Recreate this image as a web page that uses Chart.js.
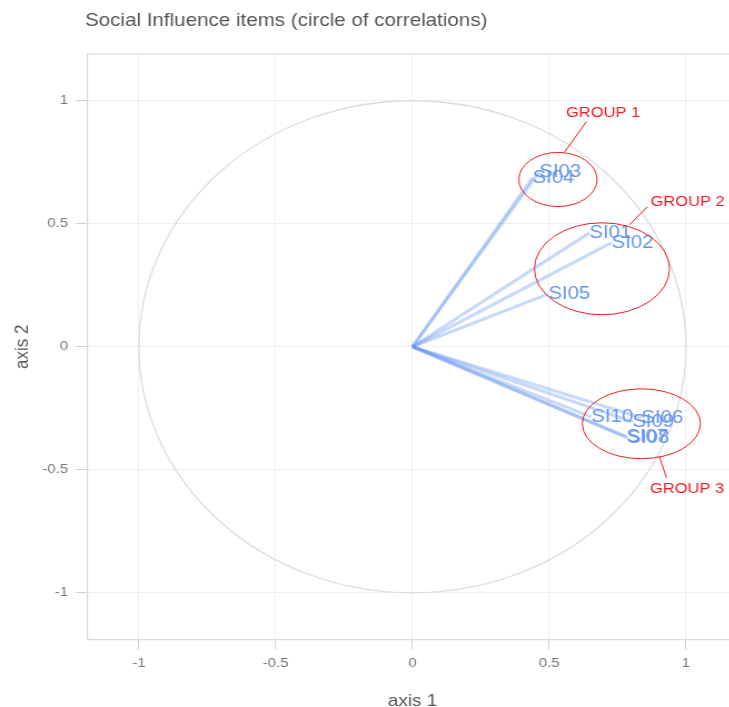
<!DOCTYPE html>
<html>
<head>
<meta charset="utf-8">
<script src="https://cdn.jsdelivr.net/npm/chart.js@4/dist/chart.umd.min.js"></script>
<style>
  html, body { margin: 0; padding: 0; background: #fff; overflow: hidden; width: 729px; height: 707px; }
  #wrap { position: absolute; left: 0; top: 0; width: 670px; height: 707px; transform: scaleX(1.112); transform-origin: 0 0; }
</style>
</head>
<body>
<div id="wrap"><canvas id="c" width="670" height="707"></canvas></div>
<script>
// ---- data ----
const varNames = ['SI01','SI02','SI03','SI04','SI05','SI06','SI07','SI08','SI09','SI10'];
const axis1 = [0.647, 0.728, 0.464, 0.439, 0.497, 0.837, 0.782, 0.786, 0.804, 0.654];
const axis2 = [0.463, 0.423, 0.711, 0.687, 0.215, -0.289, -0.366, -0.370, -0.305, -0.285];

const xTicks = [-1, -0.5, 0, 0.5, 1];
const yTicks = [-1, -0.5, 0, 0.5, 1];
const axisMin = -1.19, axisMax = 1.19;
const circleRadius = 1;

const groupNames = ['GROUP 1', 'GROUP 2', 'GROUP 3'];
const groupCx = [0.532, 0.693, 0.837];
const groupCy = [0.680, 0.317, -0.313];
const groupRx = [0.143, 0.247, 0.216];
const groupRy = [0.110, 0.187, 0.142];
const groupLabelX = [0.697, 1.006, 1.004];
const groupLabelY = [0.951, 0.589, -0.577];
const leaderFromX = [0.636, 0.859, 0.903];
const leaderFromY = [0.915, 0.569, -0.447];
const leaderToX = [0.556, 0.793, 0.929];
const leaderToY = [0.791, 0.496, -0.533];

const titleText = 'Social Influence items (circle of correlations)';

// ---- styles ----
const FONT = '"Liberation Sans", Arial, sans-serif';
const varColor = 'rgb(100,149,237)';
const varLine = 'rgba(100,149,237,0.35)';
const redColor = 'rgb(236,28,36)';

const datasets = [];
varNames.forEach((n, i) => {
  datasets.push({
    label: n,
    data: [{x: 0, y: 0}, {x: axis1[i], y: axis2[i]}],
    showLine: true, borderColor: varLine, borderWidth: 3.2,
    pointRadius: 0, borderCapStyle: 'butt'
  });
});
groupNames.forEach((g, i) => {
  datasets.push({
    label: g + ' leader',
    data: [{x: leaderFromX[i], y: leaderFromY[i]}, {x: leaderToX[i], y: leaderToY[i]}],
    showLine: true, borderColor: redColor, borderWidth: 1,
    pointRadius: 0
  });
});

function drawEllipse(ctx, xs, ys, cx, cy, rx, ry) {
  const px = xs.getPixelForValue(cx), py = ys.getPixelForValue(cy);
  const prx = Math.abs(xs.getPixelForValue(cx + rx) - px);
  const pry = Math.abs(ys.getPixelForValue(cy + ry) - py);
  ctx.beginPath();
  ctx.ellipse(px, py, prx, pry, 0, 0, Math.PI * 2);
  ctx.stroke();
}

const overlay = {
  id: 'overlay',
  beforeDatasetsDraw(chart) {
    const {ctx, chartArea, scales: {x, y}} = chart;
    ctx.save();
    ctx.strokeStyle = '#dadada';
    ctx.lineWidth = 1.2;
    ctx.beginPath();
    ctx.moveTo(chartArea.left, chartArea.top);
    ctx.lineTo(chartArea.right, chartArea.top);
    ctx.stroke();
    ctx.strokeStyle = '#dcdcdc';
    ctx.lineWidth = 1.3;
    drawEllipse(ctx, x, y, 0, 0, circleRadius, circleRadius);
    ctx.restore();
  },
  afterDatasetsDraw(chart) {
    const {ctx, scales: {x, y}} = chart;
    ctx.save();
    ctx.font = '18.3px ' + FONT;
    ctx.fillStyle = varColor;
    ctx.textAlign = 'left';
    ctx.textBaseline = 'middle';
    varNames.forEach((n, i) => {
      ctx.fillText(n, x.getPixelForValue(axis1[i]), y.getPixelForValue(axis2[i]));
    });
    ctx.strokeStyle = redColor;
    ctx.lineWidth = 1;
    groupNames.forEach((g, i) => {
      drawEllipse(ctx, x, y, groupCx[i], groupCy[i], groupRx[i], groupRy[i]);
    });
    ctx.font = '14.8px ' + FONT;
    ctx.fillStyle = redColor;
    ctx.textAlign = 'center';
    groupNames.forEach((g, i) => {
      ctx.fillText(g, x.getPixelForValue(groupLabelX[i]), y.getPixelForValue(groupLabelY[i]));
    });
    ctx.restore();
  },
  afterDraw(chart) {
    const {ctx} = chart;
    ctx.save();
    ctx.font = '18.5px ' + FONT;
    ctx.fillStyle = '#555555';
    ctx.textAlign = 'left';
    ctx.textBaseline = 'middle';
    ctx.fillText(titleText, 76.4, 21);
    ctx.restore();
  }
};

new Chart(document.getElementById('c'), {
  type: 'scatter',
  data: { datasets },
  plugins: [overlay],
  options: {
    responsive: false,
    animation: false,
    events: [],
    layout: { padding: { top: 54, right: 6.4, left: 0, bottom: 0 } },
    plugins: { legend: { display: false }, tooltip: { enabled: false }, title: { display: false } },
    scales: {
      x: {
        type: 'linear', min: axisMin, max: axisMax,
        afterBuildTicks: s => { s.ticks = xTicks.map(v => ({ value: v })); },
        afterFit: s => { s.height = 67.5; },
        grid: { color: '#efefef', lineWidth: 1, tickColor: '#d2d2d2', tickLength: 10 },
        border: { color: '#dadada', width: 1.2 },
        ticks: { font: { family: FONT, size: 13.5 }, color: '#777777', padding: 6, maxRotation: 0,
                 callback: v => String(v) },
        title: { display: true, text: 'axis 1', color: '#555555',
                 font: { family: FONT, size: 17, lineHeight: 1 }, padding: { top: 0, bottom: -3 } }
      },
      y: {
        type: 'linear', min: axisMin, max: axisMax,
        afterBuildTicks: s => { s.ticks = yTicks.map(v => ({ value: v })); },
        afterFit: s => { s.width = 78.2; },
        grid: { color: '#efefef', lineWidth: 1, tickColor: '#d2d2d2', tickLength: 10 },
        border: { color: '#dadada', width: 1.2 },
        ticks: { font: { family: FONT, size: 13.5 }, color: '#777777', padding: 7,
                 callback: v => String(v) },
        title: { display: true, text: 'axis 2', color: '#555555',
                 font: { family: FONT, size: 17, lineHeight: 1 }, padding: { top: 12, bottom: 0 } }
      }
    }
  }
});
</script>
</body>
</html>
